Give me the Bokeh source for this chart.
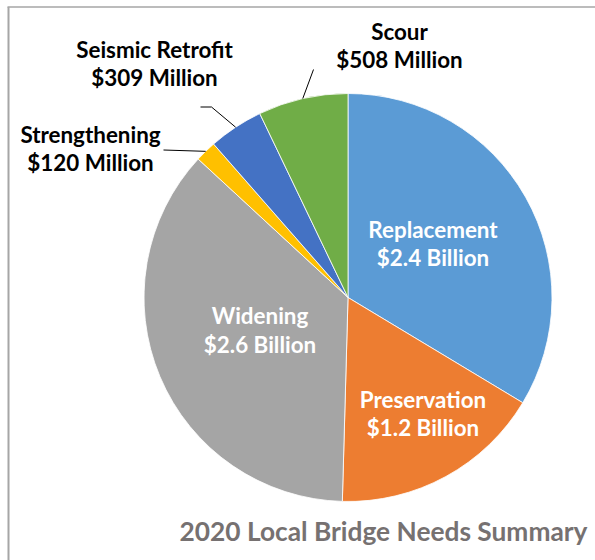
import math
from bokeh.plotting import figure
from bokeh.models import Range1d, ColumnDataSource
from bokeh.core.properties import value
from bokeh.embed import file_html
from bokeh.resources import INLINE

# ---- data ----
categories = ["Replacement", "Preservation", "Widening", "Strengthening", "Seismic Retrofit", "Scour"]
amounts_millions = [2400, 1200, 2600, 120, 309, 508]
amount_labels = ["$2.4 Billion", "$1.2 Billion", "$2.6 Billion", "$120 Million", "$309 Million", "$508 Million"]
colors = ["#5B9BD5", "#ED7D31", "#A5A5A5", "#FFC000", "#4472C4", "#70AD47"]
title_text = "2020 Local Bridge Needs Summary"

# ---- layout ----
W, H = 595, 560
CX, CY, R = 347.5, 263.0, 204.0
FONT = "Lato"
TY = 8  # vertical correction for text placement

p = figure(width=W, height=H, output_backend="svg", toolbar_location=None,
           x_range=Range1d(0, W), y_range=Range1d(0, H), min_border=0)
p.axis.visible = False
p.grid.visible = False
p.outline_line_color = None
p.background_fill_color = "white"
p.border_fill_color = "white"

total = float(sum(amounts_millions))
starts, ends, mids = [], [], []
cum = 0.0
for a in amounts_millions:
    s = math.pi / 2 - 2 * math.pi * cum / total
    e = math.pi / 2 - 2 * math.pi * (cum + a) / total
    starts.append(s)
    ends.append(e)
    mids.append((s + e) / 2)
    cum += a

src = ColumnDataSource(dict(start=starts, end=ends, color=colors))
p.wedge(x=CX, y=CY, radius=R, start_angle="start", end_angle="end", direction="clock",
        fill_color="color", line_color="white", line_width=0.8, source=src)

# frame (top and left edges of the chart area)
p.line([8, 8], [0, 553.5], line_color="#A6A6A6", line_width=2)
p.line([7, W], [553.5, 553.5], line_color="#A6A6A6", line_width=1.5)

# labels: (x, baseline1, baseline2, color)
label_pos = {
    "Replacement": (432.5, 323, 295, "white"),
    "Preservation": (422.5, 153, 125, "white"),
    "Widening": (259.5, 237, 208, "white"),
    "Strengthening": (90, 418, 390, "black"),
    "Seismic Retrofit": (154, 503, 475, "black"),
    "Scour": (399, 521, 493, "black"),
}
xs, ys, txt, tc = [], [], [], []
for cat, amt in zip(categories, amount_labels):
    x, b1, b2, c = label_pos[cat]
    xs += [x, x]
    ys += [b1 + TY, b2 + TY]
    txt += [cat, amt]
    tc += [c, c]
p.text(x=xs, y=ys, text=txt, text_color=tc, text_align="center", text_baseline="alphabetic",
       text_font=value(FONT), text_font_style="bold", text_font_size="22.4px")

# leader lines from label to slice edge at mid angle
leader_starts = {
    "Strengthening": [(163, 410.5)],
    "Seismic Retrofit": [(200, 453.5), (211, 453.5)],
    "Scour": [(313, 491)],
}
for i, cat in enumerate(categories):
    if cat in leader_starts:
        pts = leader_starts[cat]
        ex = CX + R * math.cos(mids[i])
        ey = CY + R * math.sin(mids[i])
        lx = [q[0] for q in pts] + [ex]
        ly = [q[1] for q in pts] + [ey]
        p.line(lx, ly, line_color="black", line_width=1)

p.text(x=[383], y=[22 + TY], text=[title_text], text_color="#767171", text_align="center",
       text_baseline="alphabetic", text_font=value(FONT), text_font_style="bold",
       text_font_size="26.3px")

open("out.html", "w").write(file_html(p, INLINE))
